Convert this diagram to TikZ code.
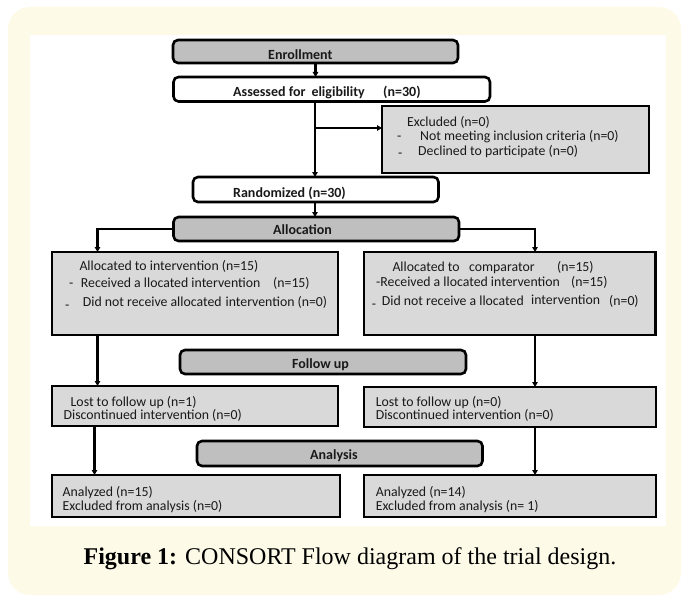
\documentclass[tikz,border=0pt]{standalone}
\usepackage{fontspec}
\setmainfont{Carlito}
\newfontfamily\capfont{Liberation Serif}
\usetikzlibrary{arrows.meta}
\definecolor{cream}{RGB}{254,250,232}
\definecolor{hdrgray}{RGB}{191,191,191}
\definecolor{boxgray}{RGB}{217,217,217}
\definecolor{ink}{RGB}{25,25,25}
\begin{document}
\begin{tikzpicture}[x=1pt,y=-1pt,
  box/.style={draw=black, line width=2.6pt, anchor=north west, inner sep=0pt, outer sep=0pt},
  hdr/.style={box, fill=hdrgray, rounded corners=5pt},
  wbox/.style={box, fill=white, rounded corners=5pt},
  gbox/.style={box, fill=boxgray},
  txt/.style={anchor=base west, inner sep=0pt, text=ink, font=\fontsize{13.8}{15}\selectfont},
  btxt/.style={anchor=base west, inner sep=0pt, text=ink, font=\fontsize{14}{15}\selectfont\bfseries},
  arr/.style={line width=2.1pt, -{Triangle[length=5pt,width=5.5pt]}}]
\useasboundingbox (0,0) rectangle (689,602);
\fill[cream, rounded corners=22pt] (8,7) rectangle (681,595);
\fill[white] (30,35) rectangle (666,526);

% boxes
\node[hdr, minimum width=285pt, minimum height=23pt] (enroll) at (173,40) {};
\node[wbox, minimum width=316.5pt, minimum height=24.5pt] (assess) at (173.5,77) {};
\node[gbox, minimum width=267pt, minimum height=67pt] (excl) at (382,106) {};
\node[wbox, minimum width=245.5pt, minimum height=25pt] (rand) at (193,177) {};
\node[hdr, minimum width=285.5pt, minimum height=24pt] (alloc) at (173.5,217) {};
\node[gbox, minimum width=286pt, minimum height=83pt] (lalloc) at (52,252) {};
\node[gbox, minimum width=291.5pt, minimum height=83pt] (ralloc) at (364,252) {};
\node[hdr, minimum width=286pt, minimum height=24pt] (follow) at (180,350) {};
\node[gbox, minimum width=286pt, minimum height=40pt] (llost) at (52,386) {};
\node[gbox, minimum width=292pt, minimum height=40pt] (rlost) at (364,387) {};
\node[hdr, minimum width=285.5pt, minimum height=25pt] (analysis) at (197,441) {};
\node[gbox, minimum width=288pt, minimum height=42pt] (lana) at (52,475) {};
\node[gbox, minimum width=292pt, minimum height=42pt] (rana) at (364,475) {};

% connectors
\coordinate (cx) at (315,0);
\coordinate (br) at (315,128);
\coordinate (lx) at (97.5,0);
\coordinate (lxb) at (94.5,0);
\coordinate (rx) at (535,0);
\draw[arr] (enroll.south) -- (enroll.south |- assess.north);
\draw[arr] (assess.south -| cx) -- (rand.north -| cx);
\draw[arr] (br) -- (br -| excl.west);
\draw[arr] (rand.south -| cx) -- (alloc.north -| cx);
\draw[arr] (alloc.west) -| (lalloc.north -| lx);
\draw[arr] (alloc.east) -| (ralloc.north -| rx);
\draw[arr] (lalloc.south -| lx) -- (llost.north -| lx);
\draw[arr] (ralloc.south -| rx) -- (rlost.north -| rx);
\draw[arr] (llost.south -| lxb) -- (lana.north -| lxb);
\draw[arr] (rlost.south -| rx) -- (rana.north -| rx);

% texts
\node[btxt] (t1) at (268,60) {Enrollment};
\node[btxt] (t2) at (233,96) {Assessed for\hspace{6pt}eligibility};
\node[btxt] (t4) at (383,96) {(n=30)};
\node[txt] (t5) at (407,127) {Excluded (n=0)};
\node[txt] (t6) at (397,140) {-};
\node[txt] (t7) at (420,140) {Not meeting inclusion criteria (n=0)};
\node[txt] (t8) at (398,155) {\raisebox{-2.5pt}{-}};
\node[txt] (t9) at (418,155) {Declined to participate (n=0)};
\node[btxt] (t10) at (233,197.5) {Randomized (n=30)};
\node[btxt] (t11) at (273,234.5) {Allocation};
\node[txt] (t12) at (79.3,270.5) {Allocated to intervention (n=15)};
\node[txt] (t13) at (69,287.5) {-};
\node[txt] (t14) at (80.7,287.5) {Received a llocated intervention};
\node[txt] (t15) at (273,287.5) {(n=15)};
\node[txt] (t16) at (65,306.5) {\raisebox{-2.5pt}{-}};
\node[txt] (t17) at (82.7,306.5) {Did not receive allocated\hspace{4pt}intervention (n=0)};
\node[txt] (t18) at (392.3,271.5) {Allocated to};
\node[txt] (t19) at (469,271.5) {comparator};
\node[txt] (t20) at (557,271.5) {(n=15)};
\node[txt] (t21) at (376,286.5) {-Received a llocated intervention};
\node[txt] (t22) at (571,286.5) {(n=15)};
\node[txt] (t23) at (371.7,305.5) {\raisebox{-2.5pt}{-}};
\node[txt] (t24) at (381.7,305.5) {Did not receive a llocated};
\node[txt] (t25) at (531,304.5) {intervention};
\node[txt] (t26) at (609,305.5) {(n=0)};
\node[btxt] (t27) at (292,368) {Follow up};
\node[txt] (t28) at (70.5,406.5) {Lost to follow up (n=1)};
\node[txt] (t29) at (63.5,419.5) {Discontinued intervention (n=0)};
\node[txt] (t30) at (375.6,406.5) {Lost to follow up (n=0)};
\node[txt] (t31) at (375.6,419.5) {Discontinued intervention (n=0)};
\node[btxt] (t32) at (310,459) {Analysis};
\node[txt] (t33) at (62.5,496) {Analyzed (n=15)};
\node[txt] (t34) at (62.5,510) {Excluded from analysis (n=0)};
\node[txt] (t35) at (375.6,496) {Analyzed (n=14)};
\node[txt] (t36) at (375.6,510) {Excluded from analysis (n= 1)};
\node[anchor=base, inner sep=0pt, font=\capfont\fontsize{24}{28}\selectfont] (cap) at (350,564) {\textbf{Figure 1:} CONSORT Flow diagram of the trial design.};
\end{tikzpicture}
\end{document}
